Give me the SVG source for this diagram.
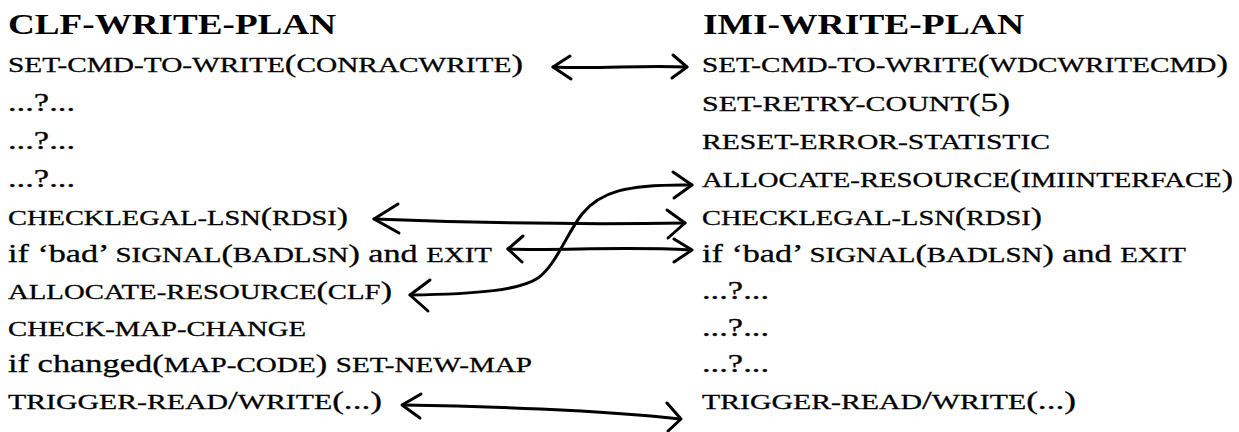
<svg xmlns="http://www.w3.org/2000/svg" width="1239" height="432" viewBox="0 0 1239 432">
<style>
text{font-family:'Liberation Serif','DejaVu Serif',serif}
.t{font-size:26px;fill:#000;stroke:#000;stroke-width:0.3}
.sc{font-size:22px}
.h{font-size:29px;font-weight:bold;fill:#000}
.c{fill:none;stroke:#000;stroke-width:3;stroke-linecap:round;stroke-linejoin:round}
</style>
<rect width="1239" height="432" fill="#fff"/>
<g id="clf-title"><text class="h" x="8" y="34" textLength="328" lengthAdjust="spacingAndGlyphs">CLF-WRITE-PLAN</text></g>
<g id="imi-title"><text class="h" x="703" y="34" textLength="321" lengthAdjust="spacingAndGlyphs">IMI-WRITE-PLAN</text></g>
<g id="clf-1"><text class="t" x="8" y="72" textLength="515" lengthAdjust="spacingAndGlyphs"><tspan class="sc">SET-CMD-TO-WRITE</tspan>(<tspan class="sc">CONRACWRITE</tspan>)</text></g>
<g id="clf-2"><text class="t" x="8" y="111" textLength="67" lengthAdjust="spacingAndGlyphs">...?...</text></g>
<g id="clf-3"><text class="t" x="8" y="149" textLength="67" lengthAdjust="spacingAndGlyphs">...?...</text></g>
<g id="clf-4"><text class="t" x="8" y="187" textLength="67" lengthAdjust="spacingAndGlyphs">...?...</text></g>
<g id="clf-5"><text class="t" x="8" y="225" textLength="340" lengthAdjust="spacingAndGlyphs"><tspan class="sc">CHECKLEGAL-LSN</tspan>(<tspan class="sc">RDSI</tspan>)</text></g>
<g id="clf-6"><text class="t" x="8" y="262" textLength="484" lengthAdjust="spacingAndGlyphs">if ‘bad’ <tspan class="sc">SIGNAL</tspan>(<tspan class="sc">BADLSN</tspan>) and <tspan class="sc">EXIT</tspan></text></g>
<g id="clf-7"><text class="t" x="8" y="299" textLength="384" lengthAdjust="spacingAndGlyphs"><tspan class="sc">ALLOCATE-RESOURCE</tspan>(<tspan class="sc">CLF</tspan>)</text></g>
<g id="clf-8"><text class="t" x="8" y="336" textLength="298" lengthAdjust="spacingAndGlyphs"><tspan class="sc">CHECK-MAP-CHANGE</tspan></text></g>
<g id="clf-9"><text class="t" x="8" y="372" textLength="524" lengthAdjust="spacingAndGlyphs">if changed(<tspan class="sc">MAP-CODE</tspan>) <tspan class="sc">SET-NEW-MAP</tspan></text></g>
<g id="clf-10"><text class="t" x="8" y="409" textLength="374" lengthAdjust="spacingAndGlyphs"><tspan class="sc">TRIGGER-READ</tspan>/<tspan class="sc">WRITE</tspan>(...)</text></g>
<g id="imi-1"><text class="t" x="702" y="72" textLength="526" lengthAdjust="spacingAndGlyphs"><tspan class="sc">SET-CMD-TO-WRITE</tspan>(<tspan class="sc">WDCWRITECMD</tspan>)</text></g>
<g id="imi-2"><text class="t" x="702" y="111" textLength="308" lengthAdjust="spacingAndGlyphs"><tspan class="sc">SET-RETRY-COUNT</tspan>(5)</text></g>
<g id="imi-3"><text class="t" x="702" y="149" textLength="348" lengthAdjust="spacingAndGlyphs"><tspan class="sc">RESET-ERROR-STATISTIC</tspan></text></g>
<g id="imi-4"><text class="t" x="702" y="187" textLength="531" lengthAdjust="spacingAndGlyphs"><tspan class="sc">ALLOCATE-RESOURCE</tspan>(<tspan class="sc">IMIINTERFACE</tspan>)</text></g>
<g id="imi-5"><text class="t" x="702" y="225" textLength="340" lengthAdjust="spacingAndGlyphs"><tspan class="sc">CHECKLEGAL-LSN</tspan>(<tspan class="sc">RDSI</tspan>)</text></g>
<g id="imi-6"><text class="t" x="702" y="262" textLength="484" lengthAdjust="spacingAndGlyphs">if ‘bad’ <tspan class="sc">SIGNAL</tspan>(<tspan class="sc">BADLSN</tspan>) and <tspan class="sc">EXIT</tspan></text></g>
<g id="imi-7"><text class="t" x="702" y="299" textLength="67" lengthAdjust="spacingAndGlyphs">...?...</text></g>
<g id="imi-8"><text class="t" x="702" y="336" textLength="67" lengthAdjust="spacingAndGlyphs">...?...</text></g>
<g id="imi-9"><text class="t" x="702" y="372" textLength="67" lengthAdjust="spacingAndGlyphs">...?...</text></g>
<g id="imi-10"><text class="t" x="702" y="409" textLength="374" lengthAdjust="spacingAndGlyphs"><tspan class="sc">TRIGGER-READ</tspan>/<tspan class="sc">WRITE</tspan>(...)</text></g>
<g id="connectors">
<path class="c" d="M553,67 C600,69 640,65 687,67"/>
<path class="c" d="M570,56 L553,67 L571,79"/>
<path class="c" d="M673,55 L687,67 L672,78"/>
<path class="c" d="M374,219 C450,222 560,225 685,223"/>
<path class="c" d="M398,204 L374,219 L399,233"/>
<path class="c" d="M667,210 L685,223 L668,238"/>
<path class="c" d="M508,249 C560,251 620,246 691,250"/>
<path class="c" d="M523,236 L508,249 L522,262"/>
<path class="c" d="M674,239 L692,250 L674,262"/>
<path class="c" d="M410,295 C480,294 520,290 538,278 C556,265 566,235 582,214 C600,192 625,184 692,185"/>
<path class="c" d="M430,280 L410,295 L428,311"/>
<path class="c" d="M673,172 L692,185 L674,198"/>
<path class="c" d="M403,405 C480,406 600,410 680,419"/>
<path class="c" d="M421,394 L402,405 L420,418"/>
<path class="c" d="M667,403 L681,419 L668,431"/>
</g>
</svg>
